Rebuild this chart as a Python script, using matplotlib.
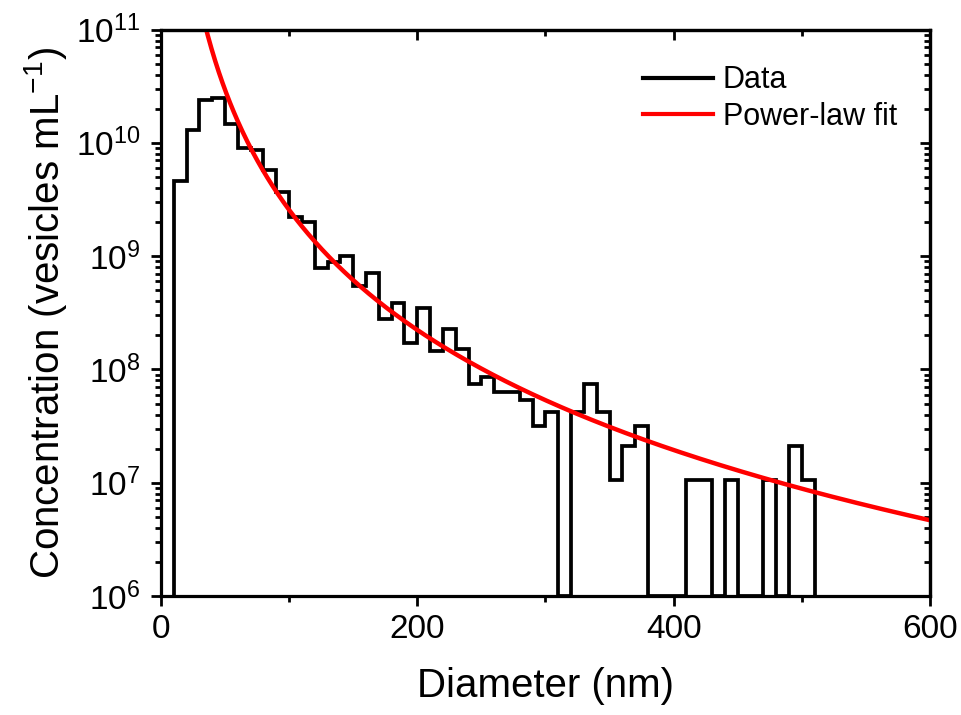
import numpy as np
import matplotlib
matplotlib.use('Agg')
import matplotlib.pyplot as plt
from matplotlib.lines import Line2D
from matplotlib.ticker import LogLocator, MultipleLocator, NullFormatter

# histogram of vesicle sizes, 10 nm bins from 10 to 510 nm (0 = empty bin)
bin_edges = np.arange(10, 520, 10)
concentration = [
    4.6e9, 1.30e10, 2.39e10, 2.48e10, 1.47e10, 9.05e9, 8.7e9, 5.75e9, 3.68e9, 2.2e9,
    2.0e9, 7.8e8, 8.9e8, 1.0e9, 5.4e8, 7.05e8, 2.77e8, 3.88e8, 1.70e8, 3.46e8,
    1.46e8, 2.26e8, 1.50e8, 7.43e7, 8.6e7, 6.36e7, 6.36e7, 5.37e7, 3.16e7, 4.2e7,
    0, 4.2e7, 7.5e7, 4.2e7, 1.05e7, 2.1e7, 3.16e7, 0, 0, 0,
    1.05e7, 1.05e7, 0, 1.05e7, 0, 0, 1.05e7, 0, 2.1e7, 1.05e7,
]

# power-law fit  C = A * d^-k
fit_amp = 10 ** 16.448
fit_exp = 3.52

x_lim = (0, 600)
y_lim = (1e6, 1e11)

plt.rcParams['font.family'] = ['Liberation Sans', 'DejaVu Sans']
plt.rcParams['mathtext.fontset'] = 'custom'
plt.rcParams['mathtext.rm'] = 'Liberation Sans'
plt.rcParams['mathtext.it'] = 'Liberation Sans'
plt.rcParams['mathtext.default'] = 'regular'

fig = plt.figure(figsize=(9.61, 7.15), dpi=100)
ax = fig.add_axes([0.1675, 0.1664, 0.9677 - 0.1675, 0.9587 - 0.1664])

conc = np.array(concentration, dtype=float)
conc_plot = np.where(conc > 0, conc, y_lim[0])
ax.stairs(conc_plot, bin_edges, baseline=y_lim[0], color='black', lw=2.7)

d = np.linspace(20, 600, 600)
ax.plot(d, fit_amp * d ** (-fit_exp), color='#ff0000', lw=3.2)

ax.set_yscale('log')
ax.set_xlim(*x_lim)
ax.set_ylim(*y_lim)

ax.xaxis.set_major_locator(MultipleLocator(200))
ax.xaxis.set_minor_locator(MultipleLocator(100))
ax.yaxis.set_major_locator(LogLocator(base=10, numticks=10))
ax.yaxis.set_minor_locator(LogLocator(base=10, subs=np.arange(2, 10), numticks=20))
ax.yaxis.set_minor_formatter(NullFormatter())

for s in ax.spines.values():
    s.set_linewidth(2.3)

ax.tick_params(which='major', direction='out', length=7, width=2, labelsize=24)
ax.tick_params(which='minor', direction='out', length=4, width=2)
ax.tick_params(axis='x', which='major', pad=6)
ax.tick_params(axis='y', which='major', pad=8)

# mirrored ticks pointing inward on top and right
top = ax.secondary_xaxis('top')
top.xaxis.set_major_locator(MultipleLocator(200))
top.xaxis.set_minor_locator(MultipleLocator(100))
top.tick_params(which='major', direction='in', length=7, width=2, labeltop=False)
top.tick_params(which='minor', direction='in', length=4, width=2)
top.spines['top'].set_linewidth(2.3)

right = ax.secondary_yaxis('right')
right.yaxis.set_major_locator(LogLocator(base=10, numticks=10))
right.yaxis.set_minor_locator(LogLocator(base=10, subs=np.arange(2, 10), numticks=20))
right.yaxis.set_minor_formatter(NullFormatter())
right.tick_params(which='major', direction='in', length=7, width=2, labelright=False)
right.tick_params(which='minor', direction='in', length=4, width=2)
right.spines['right'].set_linewidth(2.3)

ax.set_xlabel('Diameter (nm)', fontsize=29, labelpad=16)
ax.set_ylabel('Concentration (vesicles mL$^{-1}$)', fontsize=29, labelpad=5)

handles = [Line2D([], [], color='black', lw=3),
           Line2D([], [], color='#ff0000', lw=3)]
ax.legend(handles, ['Data', 'Power-law fit'], loc='upper left',
          bbox_to_anchor=(0.627, 0.937), frameon=False, fontsize=22,
          borderpad=0, borderaxespad=0, handlelength=2.3,
          handletextpad=0.3, labelspacing=0.22)

fig.savefig('out.png', dpi=100)
